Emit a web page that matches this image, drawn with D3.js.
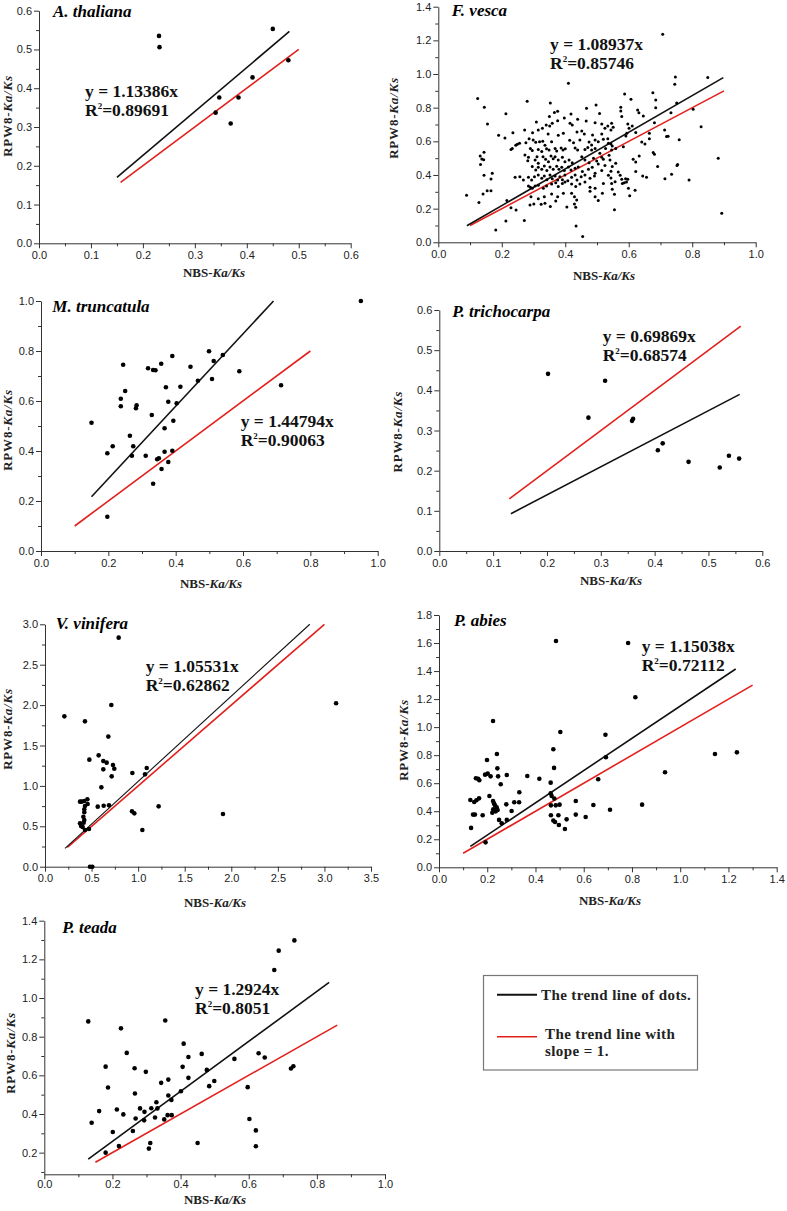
<!DOCTYPE html>
<html><head><meta charset="utf-8">
<script src="https://cdn.jsdelivr.net/npm/d3@7"></script>
<style>body{margin:0;background:#fff}svg{display:block}</style>
</head><body><svg id="c" width="787" height="1211"></svg>
<script>
// ---------- data ----------
const species = ["A. thaliana","F. vesca","M. truncatula","P. trichocarpa","V. vinifera","P. abies","P. teada"];
const slopes = [1.13386,1.08937,1.44794,0.69869,1.05531,1.15038,1.2924];
const slopeLabels = ["1.13386","1.08937","1.44794","0.69869","1.05531","1.15038","1.2924"];
const r2Labels = ["0.89691","0.85746","0.90063","0.68574","0.62862","0.72112","0.8051"];
const fitRanges = [[0.15,0.482],[0.09,0.898],[0.15,0.6906],[0.133,0.558],[0.215,2.843],[0.13,1.23],[0.129,0.836]];
const unitRanges = [[0.157,0.5],[0.1,0.9],[0.1,0.8],[0.13,0.56],[0.24,3.0],[0.1,1.3],[0.15,0.86]];
const xDomains = [[0,0.6],[0,1],[0,1],[0,0.6],[0,3.5],[0,1.4],[0,1]];
const yDomains = [[0,0.6],[0,1.4],[0,1],[0,0.6],[0,3],[0,1.8],[0.088,1.4]];
const xLabelStep = [0.1,0.2,0.2,0.1,0.5,0.2,0.2];
const yLabelStep = [0.1,0.2,0.2,0.1,0.5,0.2,0.2];
const yLabelStart = [0,0,0,0,0,0,0.2];
const legendLabels = [["The trend line of dots."],["The trend line with","slope = 1."]];

const thaliana = [[0.231,0.535],[0.232,0.506],[0.450,0.553],[0.480,0.472],[0.411,0.428],[0.347,0.376],[0.384,0.376],[0.340,0.337],[0.369,0.309]];

const vesca = [[0.410,0.945],[0.124,0.855],[0.280,0.838],[0.145,0.802],[0.353,0.828],[0.467,0.796],[0.497,0.816],[0.213,0.764],[0.366,0.772],[0.376,0.778],[0.418,0.762],[0.350,0.747],[0.397,0.739],[0.439,0.731],[0.155,0.703],[0.309,0.715],[0.340,0.697],[0.359,0.707],[0.376,0.723],[0.415,0.707],[0.422,0.697],[0.466,0.721],[0.494,0.711],[0.328,0.677],[0.351,0.691],[0.315,0.667],[0.235,0.651],[0.272,0.667],[0.452,0.661],[0.460,0.644],[0.190,0.636],[0.210,0.620],[0.297,0.651],[0.346,0.644],[0.378,0.636],[0.394,0.648],[0.437,0.655],[0.486,0.638],[0.286,0.616],[0.299,0.608],[0.256,0.588],[0.249,0.582],[0.244,0.576],[0.233,0.558],[0.229,0.552],[0.276,0.592],[0.307,0.594],[0.319,0.598],[0.329,0.600],[0.336,0.576],[0.357,0.598],[0.414,0.606],[0.426,0.592],[0.446,0.608],[0.475,0.596],[0.483,0.578],[0.494,0.608],[0.290,0.558],[0.296,0.545],[0.315,0.552],[0.326,0.539],[0.341,0.556],[0.349,0.549],[0.368,0.558],[0.373,0.543],[0.387,0.560],[0.393,0.549],[0.400,0.556],[0.431,0.560],[0.439,0.549],[0.462,0.552],[0.471,0.564],[0.483,0.549],[0.494,0.558],[0.132,0.513],[0.144,0.535],[0.137,0.495],[0.143,0.491],[0.133,0.463],[0.273,0.519],[0.284,0.505],[0.282,0.485],[0.305,0.489],[0.311,0.509],[0.315,0.469],[0.330,0.509],[0.338,0.493],[0.347,0.479],[0.355,0.513],[0.362,0.497],[0.368,0.509],[0.378,0.489],[0.391,0.505],[0.399,0.479],[0.412,0.489],[0.422,0.473],[0.452,0.509],[0.462,0.489],[0.475,0.473],[0.489,0.499],[0.499,0.483],[0.296,0.450],[0.307,0.430],[0.315,0.446],[0.326,0.434],[0.334,0.454],[0.342,0.426],[0.352,0.448],[0.362,0.434],[0.373,0.452],[0.380,0.434],[0.389,0.446],[0.397,0.426],[0.410,0.448],[0.418,0.430],[0.431,0.440],[0.441,0.448],[0.454,0.420],[0.473,0.434],[0.485,0.446],[0.494,0.410],[0.144,0.398],[0.170,0.410],[0.166,0.376],[0.242,0.386],[0.257,0.390],[0.268,0.370],[0.284,0.386],[0.294,0.370],[0.303,0.390],[0.315,0.400],[0.326,0.380],[0.334,0.394],[0.342,0.372],[0.352,0.400],[0.359,0.378],[0.368,0.394],[0.376,0.370],[0.383,0.390],[0.391,0.372],[0.399,0.400],[0.408,0.366],[0.420,0.386],[0.431,0.400],[0.437,0.370],[0.450,0.390],[0.462,0.400],[0.478,0.380],[0.492,0.394],[0.284,0.335],[0.290,0.327],[0.296,0.321],[0.305,0.335],[0.315,0.339],[0.331,0.321],[0.341,0.335],[0.357,0.347],[0.370,0.354],[0.378,0.331],[0.391,0.350],[0.399,0.358],[0.420,0.347],[0.433,0.331],[0.446,0.347],[0.462,0.358],[0.478,0.327],[0.494,0.321],[0.154,0.307],[0.166,0.307],[0.141,0.287],[0.089,0.279],[0.128,0.236],[0.216,0.248],[0.292,0.271],[0.315,0.259],[0.334,0.271],[0.357,0.287],[0.376,0.271],[0.394,0.291],[0.420,0.291],[0.429,0.271],[0.436,0.251],[0.478,0.303],[0.494,0.271],[0.229,0.206],[0.245,0.192],[0.289,0.222],[0.301,0.228],[0.324,0.226],[0.336,0.232],[0.353,0.212],[0.370,0.246],[0.405,0.210],[0.429,0.228],[0.433,0.208],[0.213,0.127],[0.271,0.129],[0.181,0.073],[0.434,0.097],[0.455,0.034],
[0.707,1.236],[0.747,0.982],[0.745,0.939],[0.849,0.980],[0.676,0.889],[0.685,0.846],[0.587,0.881],[0.607,0.850],[0.751,0.828],[0.575,0.802],[0.575,0.780],[0.628,0.786],[0.632,0.770],[0.646,0.750],[0.685,0.800],[0.578,0.747],[0.508,0.766],[0.733,0.770],[0.803,0.790],[0.681,0.711],[0.515,0.703],[0.525,0.677],[0.534,0.691],[0.546,0.707],[0.551,0.683],[0.544,0.667],[0.597,0.703],[0.601,0.677],[0.611,0.691],[0.713,0.667],[0.828,0.687],[0.515,0.644],[0.534,0.616],[0.591,0.632],[0.594,0.648],[0.622,0.653],[0.665,0.648],[0.665,0.616],[0.719,0.628],[0.724,0.630],[0.759,0.610],[0.504,0.598],[0.520,0.612],[0.536,0.588],[0.544,0.584],[0.548,0.572],[0.583,0.568],[0.641,0.596],[0.651,0.584],[0.527,0.558],[0.546,0.549],[0.559,0.558],[0.509,0.529],[0.677,0.533],[0.681,0.523],[0.882,0.499],[0.515,0.505],[0.520,0.493],[0.538,0.517],[0.614,0.493],[0.622,0.477],[0.633,0.513],[0.504,0.465],[0.525,0.457],[0.548,0.450],[0.559,0.469],[0.541,0.489],[0.691,0.450],[0.752,0.457],[0.754,0.463],[0.515,0.426],[0.536,0.398],[0.544,0.422],[0.567,0.418],[0.573,0.398],[0.622,0.420],[0.644,0.394],[0.656,0.386],[0.735,0.404],[0.520,0.350],[0.544,0.382],[0.578,0.374],[0.586,0.354],[0.590,0.378],[0.597,0.374],[0.714,0.378],[0.790,0.370],[0.546,0.350],[0.557,0.360],[0.580,0.350],[0.593,0.358],[0.548,0.315],[0.555,0.285],[0.599,0.321],[0.620,0.309],[0.603,0.277],[0.517,0.291],[0.504,0.248],[0.555,0.194],[0.893,0.172]];

const truncatula = [[0.950,1.000],[0.150,0.513],[0.197,0.391],[0.197,0.137],[0.213,0.419],[0.237,0.609],[0.237,0.579],[0.244,0.745],[0.250,0.640],[0.264,0.461],[0.270,0.381],[0.274,0.419],[0.282,0.571],[0.284,0.583],[0.311,0.381],[0.318,0.731],[0.329,0.544],[0.333,0.724],[0.340,0.723],[0.333,0.269],[0.345,0.367],[0.350,0.371],[0.357,0.749],[0.358,0.328],[0.367,0.397],[0.367,0.491],[0.371,0.655],[0.378,0.597],[0.378,0.356],[0.390,0.780],[0.390,0.401],[0.393,0.521],[0.403,0.591],[0.414,0.657],[0.444,0.737],[0.466,0.681],[0.499,0.799],[0.508,0.688],[0.513,0.760],[0.540,0.784],[0.589,0.719],[0.713,0.663]];

const trichocarpa = [[0.202,0.441],[0.308,0.424],[0.277,0.332],[0.358,0.324],[0.360,0.329],[0.406,0.251],[0.415,0.268],[0.463,0.222],[0.521,0.208],[0.538,0.237],[0.557,0.230]];

const vinifera = [[0.208,1.861],[0.429,1.799],[0.791,2.835],[0.712,2.002],[0.680,1.610],[0.476,1.325],[0.576,1.378],[0.626,1.308],[0.662,1.288],[0.626,1.205],[0.730,1.259],[0.744,1.213],[0.716,1.118],[0.605,0.982],[0.938,1.160],[1.092,1.222],[1.074,1.143],[1.220,0.747],[0.934,0.685],[0.959,0.660],[1.045,0.454],[0.566,0.743],[0.630,0.755],[0.687,0.759],[0.376,0.805],[0.394,0.805],[0.422,0.813],[0.455,0.834],[0.458,0.776],[0.422,0.710],[0.422,0.673],[0.429,0.751],[0.412,0.619],[0.422,0.578],[0.376,0.537],[0.387,0.504],[0.404,0.491],[0.415,0.545],[0.429,0.454],[0.472,0.466],[0.483,0.0],[0.508,0.0],[3.125,2.022],[1.911,0.652]];

const abies = [[0.240,0.808],[0.199,0.766],[0.474,0.842],[0.477,0.709],[0.153,0.635],[0.162,0.632],[0.167,0.621],[0.191,0.661],[0.202,0.668],[0.214,0.649],[0.242,0.706],[0.245,0.649],[0.281,0.659],[0.256,0.592],[0.366,0.651],[0.416,0.632],[0.463,0.604],[0.333,0.535],[0.130,0.480],[0.146,0.466],[0.155,0.478],[0.166,0.492],[0.209,0.509],[0.224,0.473],[0.228,0.456],[0.232,0.442],[0.225,0.414],[0.239,0.428],[0.243,0.409],[0.221,0.390],[0.235,0.399],[0.279,0.449],[0.312,0.464],[0.332,0.464],[0.301,0.402],[0.249,0.338],[0.260,0.314],[0.281,0.338],[0.141,0.376],[0.149,0.376],[0.181,0.371],[0.133,0.281],[0.193,0.178],[0.463,0.528],[0.467,0.509],[0.478,0.490],[0.464,0.442],[0.484,0.442],[0.500,0.447],[0.464,0.371],[0.495,0.371],[0.474,0.333],[0.481,0.323],[0.497,0.302],[0.522,0.273],[0.529,0.342],[0.567,0.473],[0.567,0.376],[0.608,0.359],[0.640,0.445],[0.660,0.628],[0.485,1.614],[0.784,1.600],[0.814,1.213],[0.224,1.044],[0.503,0.965],[0.690,0.946],[1.144,0.808],[1.235,0.820],[0.692,0.785],[0.937,0.678],[0.709,0.411],[0.842,0.447]];

const teada = [[0.129,0.879],[0.139,0.355],[0.161,0.415],[0.180,0.645],[0.180,0.200],[0.187,0.537],[0.201,0.307],[0.213,0.423],[0.219,0.234],[0.225,0.843],[0.232,0.398],[0.242,0.716],[0.260,0.312],[0.265,0.637],[0.266,0.506],[0.268,0.377],[0.281,0.429],[0.293,0.367],[0.294,0.411],[0.298,0.618],[0.307,0.221],[0.311,0.250],[0.314,0.430],[0.325,0.382],[0.329,0.461],[0.332,0.429],[0.343,0.561],[0.352,0.372],[0.355,0.884],[0.364,0.578],[0.364,0.496],[0.362,0.394],[0.374,0.394],[0.373,0.473],[0.401,0.518],[0.406,0.644],[0.409,0.764],[0.423,0.695],[0.423,0.587],[0.450,0.250],[0.462,0.711],[0.477,0.628],[0.484,0.544],[0.499,0.571],[0.558,0.685],[0.597,0.539],[0.602,0.374],[0.629,0.714],[0.647,0.692],[0.621,0.315],[0.621,0.233],[0.675,1.145],[0.688,1.245],[0.734,1.298],[0.724,0.635],[0.731,0.647]];

const datasets = [thaliana, vesca, truncatula, trichocarpa, vinifera, abies, teada];

// ---------- layout (pixel positions) ----------
const layout = [
 {x:[39,350.7], y:[243.3,10.7], title:[53,16.7], eq:[85,96.7], xt:[214,277.3], yt:[7,116], r:2.3, pad:3},
 {x:[438.3,755.7], y:[242.3,6.7], title:[451.7,15.5], eq:[550,50], xt:[604,280], yt:[393,118], r:1.5, pad:3},
 {x:[41,377.7], y:[551,301], title:[52.3,311.7], eq:[240.7,426.7], xt:[211,587.7], yt:[7.3,430], r:2.3, pad:3},
 {x:[439.3,762.3], y:[551,310], title:[452.3,316.7], eq:[602.7,341.7], xt:[611,585], yt:[397,431.7], r:2.3, pad:3},
 {x:[45,371], y:[866.7,624.3], title:[55.7,629.3], eq:[145.7,671.7], xt:[215,906.7], yt:[7.3,729], r:2.3, pad:3},
 {x:[439,776.7], y:[867.3,615], title:[454,625.7], eq:[641.7,651.7], xt:[610,905], yt:[403,740], r:2.3, pad:3},
 {x:[44.3,385], y:[1174.3,920.7], title:[62.3,933.3], eq:[195,995], xt:[215,1204], yt:[10,1053], r:2.3, pad:1}
];
const RED = "#e3201c", AXIS = "#333";
const SERIF = "'Liberation Serif','Times New Roman',serif";
const SANS = "'Liberation Sans',Arial,sans-serif";

const svg = d3.select("#c");
const fmt = d3.format(".1f");
function steps(a, b, s){ const out=[]; for(let i=0;;i++){ const v=+(a+i*s).toFixed(4); if(v>b+1e-9) break; out.push(v);} return out; }

datasets.forEach((data, i) => {
  const L = layout[i];
  const xs = d3.scaleLinear().domain(xDomains[i]).range(L.x);
  const ys = d3.scaleLinear().domain(yDomains[i]).range(L.y);
  const g = svg.append("g");

  const xMaj = steps(xDomains[i][0], xDomains[i][1], xLabelStep[i]);
  const xMin = steps(xDomains[i][0], xDomains[i][1], xLabelStep[i]/2).filter(v=>!xMaj.some(m=>Math.abs(m-v)<1e-6));
  const yMaj = steps(yLabelStart[i], yDomains[i][1], yLabelStep[i]);
  const yMin = steps(yLabelStart[i]-yLabelStep[i]/2 >= yDomains[i][0] ? yLabelStart[i]-yLabelStep[i]/2 : yLabelStart[i]+yLabelStep[i]/2, yDomains[i][1], yLabelStep[i]);

  // minor ticks
  g.append("g").attr("transform",`translate(0,${L.y[0]})`)
    .call(d3.axisBottom(xs).tickValues(xMin).tickSize(3).tickSizeOuter(0).tickFormat(""))
    .call(a=>{a.select(".domain").remove(); a.selectAll("line").attr("stroke",AXIS);});
  g.append("g").attr("transform",`translate(${L.x[0]},0)`)
    .call(d3.axisLeft(ys).tickValues(yMin).tickSize(3).tickSizeOuter(0).tickFormat(""))
    .call(a=>{a.select(".domain").remove(); a.selectAll("line").attr("stroke",AXIS);});
  // major axes
  g.append("g").attr("transform",`translate(0,${L.y[0]})`)
    .call(d3.axisBottom(xs).tickValues(xMaj).tickSize(5).tickSizeOuter(0).tickPadding(L.pad).tickFormat(fmt))
    .call(a=>{a.select(".domain").attr("stroke",AXIS); a.selectAll("line").attr("stroke",AXIS);
      a.selectAll("text").attr("fill","#222").style("font-family",SANS).style("font-size","11px");});
  g.append("g").attr("transform",`translate(${L.x[0]},0)`)
    .call(d3.axisLeft(ys).tickValues(yMaj).tickSize(5).tickSizeOuter(0).tickPadding(2).tickFormat(fmt))
    .call(a=>{a.select(".domain").attr("stroke",AXIS); a.selectAll("line").attr("stroke",AXIS);
      a.selectAll("text").attr("fill","#222").style("font-family",SANS).style("font-size","11px");});

  // trend lines
  const line = d3.line().x(d=>xs(d[0])).y(d=>ys(d[1]));
  g.append("path").attr("d", line(unitRanges[i].map(x=>[x,x]))).attr("stroke",RED).attr("stroke-width",1.6).attr("fill","none");
  g.append("path").attr("d", line(fitRanges[i].map(x=>[x,x*slopes[i]]))).attr("stroke","#111").attr("stroke-width", i===4?1.1:1.6).attr("fill","none");

  // dots
  g.append("g").selectAll("circle").data(data).join("circle")
    .attr("cx",d=>xs(d[0])).attr("cy",d=>ys(d[1])).attr("r",L.r).attr("fill","#000");

  // title
  g.append("text").attr("x",L.title[0]).attr("y",L.title[1]).text(species[i])
    .style("font-family",SERIF).style("font-weight","bold").style("font-style","italic").style("font-size","17px");

  // equation
  const eq = g.append("text").attr("x",L.eq[0]).attr("y",L.eq[1])
    .style("font-family",SERIF).style("font-weight","bold").style("font-size","17.5px").attr("fill","#111");
  eq.text(`y = ${slopeLabels[i]}x`);
  const r2 = g.append("text").attr("x",L.eq[0]).attr("y",L.eq[1]+19)
    .style("font-family",SERIF).style("font-weight","bold").style("font-size","17.5px").attr("fill","#111");
  r2.append("tspan").text("R");
  r2.append("tspan").attr("dy",-7).style("font-size","9px").text("2");
  r2.append("tspan").attr("dy",7).text("=" + r2Labels[i]);

  // axis titles
  const xt = g.append("text").attr("x",L.xt[0]).attr("y",L.xt[1]).attr("text-anchor","middle")
    .style("font-family",SERIF).style("font-weight","bold").style("font-size","13px").attr("fill","#222");
  xt.append("tspan").text("NBS-");
  xt.append("tspan").style("font-style","italic").text("Ka/Ks");
  const yt = g.append("text").attr("transform",`translate(${L.yt[0]+4.5},${L.yt[1]}) rotate(-90)`).attr("text-anchor","middle")
    .style("font-family",SERIF).style("font-weight","bold").style("font-size","13px").style("letter-spacing","0.8px").attr("fill","#222");
  yt.append("tspan").text("RPW8-");
  yt.append("tspan").style("font-style","italic").text("Ka/Ks");
});

// legend
const lg = svg.append("g");
lg.append("rect").attr("x",483.5).attr("y",975.5).attr("width",214).attr("height",94.5)
  .attr("fill","none").attr("stroke","#777").attr("stroke-width",1.2);
const legColors = ["#111", RED];
const legY = [994.7, 1036.7];
const legTextY = [[1000],[1038.5,1056]];
const legTextX = [541, 545];
legendLabels.forEach((lines, k) => {
  lg.append("line").attr("x1",497).attr("x2",537).attr("y1",legY[k]).attr("y2",legY[k])
    .attr("stroke",legColors[k]).attr("stroke-width",k===0?2:1.6);
  lines.forEach((t, j) => {
    lg.append("text").attr("x",legTextX[k]).attr("y",legTextY[k][j]).text(t)
      .style("font-family",SERIF).style("font-weight","bold").style("font-size","15px").style("letter-spacing","0.4px").attr("fill","#222");
  });
});
</script></body></html>
